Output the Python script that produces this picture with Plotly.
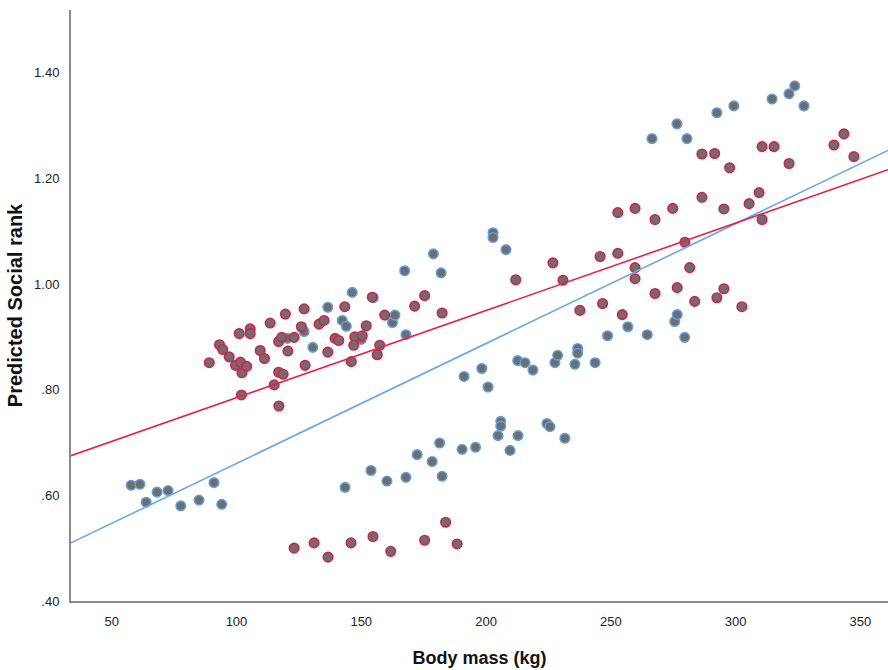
import plotly.graph_objects as go

# Body mass (kg) and predicted social rank, two groups
group1_mass = [57.8, 61.3, 63.8, 68.2, 72.6, 77.7, 85.0, 91.0, 94.1,
               143.5, 153.9, 160.3, 167.9, 172.4, 178.4, 181.4, 182.4, 190.4, 195.8,
               204.8, 205.9, 205.9, 209.6, 212.8, 224.4, 225.6, 231.6,
               191.2, 198.3, 200.8, 212.7, 215.6, 218.8, 227.6, 228.7, 235.6, 236.7,
               236.7, 243.7, 248.7, 256.8, 264.6, 275.6, 276.6, 279.6,
               202.8, 202.8, 208.0, 266.5, 276.5, 280.5, 292.5, 299.3, 314.6, 321.4,
               323.7, 327.4,
               120.4, 127.1, 130.6, 136.6, 142.4, 144.0, 146.4, 150.0, 154.8, 162.5,
               163.5, 167.9, 167.4, 178.9, 182.0]
group1_rank = [0.619, 0.621, 0.587, 0.606, 0.609, 0.580, 0.591, 0.624, 0.583,
               0.615, 0.647, 0.627, 0.634, 0.677, 0.664, 0.699, 0.636, 0.687, 0.691,
               0.713, 0.740, 0.731, 0.685, 0.713, 0.736, 0.730, 0.708,
               0.825, 0.840, 0.805, 0.855, 0.851, 0.837, 0.851, 0.865, 0.848, 0.878,
               0.869, 0.851, 0.902, 0.919, 0.904, 0.929, 0.942, 0.899,
               1.097, 1.088, 1.065, 1.275, 1.303, 1.275, 1.324, 1.337, 1.350, 1.360,
               1.375, 1.337,
               0.897, 0.910, 0.880, 0.956, 0.931, 0.920, 0.984, 0.895, 0.974, 0.927,
               0.941, 0.904, 1.025, 1.057, 1.021]

group2_mass = [123.1, 131.1, 136.7, 145.9, 154.7, 161.8, 175.4, 183.8, 188.4,
               89.1, 93.2, 94.5, 97.1, 99.6, 101.6, 102.2, 104.1, 101.1, 105.5,
               105.5, 109.5, 111.2, 102.0, 113.5, 119.6, 116.9, 118.1, 123.1, 120.6,
               116.9, 118.7, 115.1, 117.0, 127.1, 126.0, 127.5, 133.1, 135.1, 136.6,
               139.5, 141.0, 143.4, 146.0, 147.4, 147.0, 150.4, 152.0, 154.4, 157.4,
               156.4, 159.4, 171.4, 175.4, 182.4,
               211.9, 226.8, 230.8, 245.7, 252.8, 259.7, 259.7, 279.7, 281.6, 237.6,
               246.7, 254.6, 267.7, 276.6, 283.6, 292.5, 295.3, 302.5, 252.8, 259.7,
               267.7, 274.8, 286.5, 295.3, 305.4, 309.4, 310.6, 286.5, 291.6, 297.6,
               310.6, 315.4, 321.4, 339.4, 343.4, 347.4]
group2_rank = [0.500, 0.510, 0.483, 0.510, 0.522, 0.494, 0.515, 0.549, 0.508,
               0.851, 0.885, 0.876, 0.862, 0.846, 0.852, 0.832, 0.844, 0.906, 0.915,
               0.906, 0.874, 0.859, 0.790, 0.926, 0.943, 0.891, 0.899, 0.899, 0.873,
               0.833, 0.829, 0.809, 0.769, 0.953, 0.919, 0.846, 0.924, 0.931, 0.871,
               0.897, 0.893, 0.957, 0.853, 0.900, 0.884, 0.902, 0.921, 0.975, 0.884,
               0.866, 0.941, 0.958, 0.978, 0.945,
               1.008, 1.040, 1.007, 1.052, 1.058, 1.031, 1.010, 1.079, 1.031, 0.950,
               0.963, 0.942, 0.982, 0.993, 0.967, 0.974, 0.991, 0.957, 1.135, 1.143,
               1.122, 1.143, 1.164, 1.142, 1.152, 1.173, 1.122, 1.246, 1.247, 1.220,
               1.260, 1.260, 1.228, 1.263, 1.284, 1.241]

# Linear fit lines: (intercept, slope)
group1_fit = (0.4335, 0.002269)
group2_fit = (0.6193, 0.001653)

x_ticks = [50, 100, 150, 200, 250, 300, 350]
y_ticks = [0.40, 0.60, 0.80, 1.00, 1.20, 1.40]
y_tick_text = [".40", ".60", ".80", "1.00", "1.20", "1.40"]

x_range = [33.7, 361.06]
y_range = [0.40, 1.5185]

blue = "#5f9fe0"
red = "#d81e4c"
fill = "#6e6e6e"

fig = go.Figure()

fig.add_trace(go.Scatter(
    x=group1_mass, y=group1_rank, mode="markers",
    marker=dict(size=9.5, color=fill, line=dict(color=blue, width=1.6)),
    showlegend=False, hoverinfo="skip"))
fig.add_trace(go.Scatter(
    x=group2_mass, y=group2_rank, mode="markers",
    marker=dict(size=9.5, color=fill, line=dict(color=red, width=1.6)),
    showlegend=False, hoverinfo="skip"))

for (b0, b1), col in ((group1_fit, "#6aa8ec"), (group2_fit, "#e0244f")):
    fig.add_trace(go.Scatter(
        x=x_range, y=[b0 + b1 * v for v in x_range], mode="lines",
        line=dict(color=col, width=1.6), showlegend=False, hoverinfo="skip"))

font = "'Liberation Sans', Arial, sans-serif"

fig.update_layout(
    width=888, height=670,
    margin=dict(l=71, r=0, t=10, b=69),
    plot_bgcolor="white", paper_bgcolor="white",
    xaxis=dict(
        range=x_range, tickvals=x_ticks, ticks="", showgrid=False, zeroline=False,
        showline=True, linecolor="#8a8a8a", linewidth=2, ticklabelstandoff=7,
        tickfont=dict(family=font, size=13, color="#222222"),
        title=dict(text="<b>Body mass (kg)</b>", standoff=24,
                   font=dict(family=font, size=18, color="#111111"))),
    yaxis=dict(
        range=y_range, tickvals=y_ticks, ticktext=y_tick_text, ticks="",
        showgrid=False, zeroline=False, showline=True, linecolor="#8a8a8a",
        linewidth=2, ticklabelstandoff=7,
        tickfont=dict(family=font, size=13, color="#222222"),
        title=dict(text="<b>Predicted Social rank</b>", standoff=6,
                   font=dict(family=font, size=20, color="#111111"))),
)

fig.write_html("out.html")
